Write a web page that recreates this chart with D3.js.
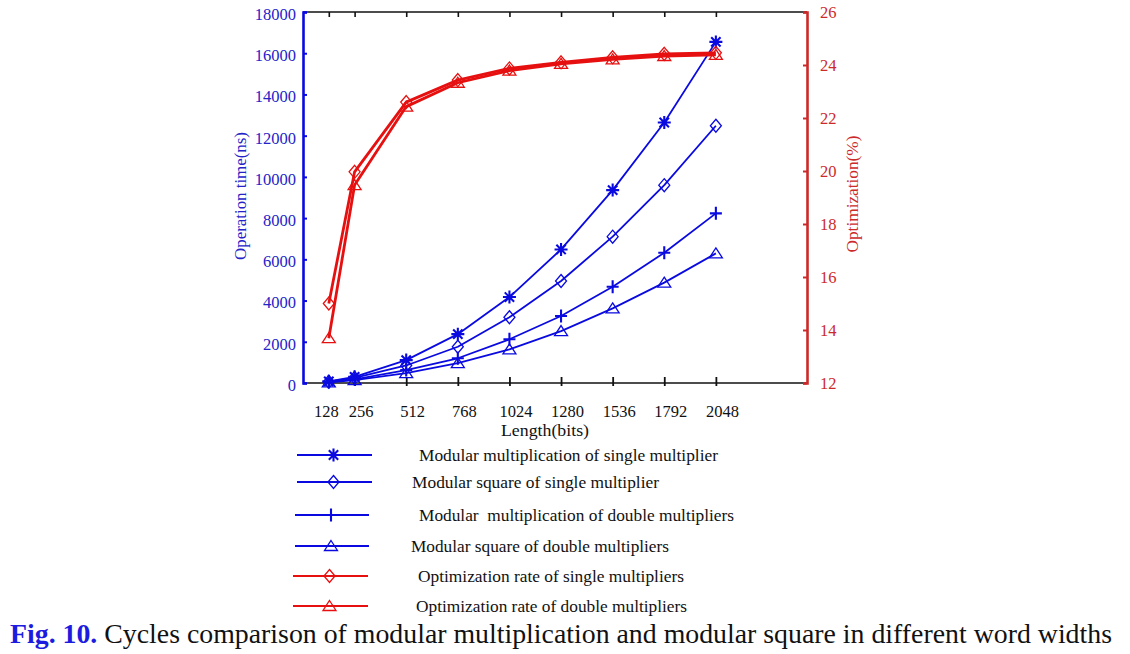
<!DOCTYPE html>
<html>
<head>
<meta charset="utf-8">
<script src="https://cdn.jsdelivr.net/npm/d3@7"></script>
<style>
  html, body { margin: 0; padding: 0; background: #fff; }
  svg { display: block; }
  svg text { font-family: "Liberation Serif", Tinos, "Times New Roman", "Nimbus Roman", "DejaVu Serif", serif !important; }
</style>
</head>
<body>
<svg id="chart" width="1130" height="654"></svg>
<script>
// ---------- data ----------
const lengths = [128, 256, 512, 768, 1024, 1280, 1536, 1792, 2048];
const mulSingle = [80, 300, 1110, 2370, 4170, 6480, 9360, 12640, 16550];
const sqrSingle = [60, 250, 850, 1760, 3190, 4950, 7100, 9600, 12480];
const mulDouble = [45, 180, 630, 1200, 2120, 3250, 4670, 6320, 8230];
const sqrDouble = [35, 140, 480, 960, 1630, 2520, 3620, 4870, 6290];
const optSingle = [15.0, 19.97, 22.6, 23.43, 23.87, 24.1, 24.29, 24.42, 24.46];
const optDouble = [13.69, 19.47, 22.43, 23.33, 23.79, 24.04, 24.21, 24.34, 24.38];
const leftTicks = [0, 2000, 4000, 6000, 8000, 10000, 12000, 14000, 16000, 18000];
const rightTicks = [12, 14, 16, 18, 20, 22, 24, 26];
const legendLabels = [
  "Modular multiplication of single multiplier",
  "Modular square of single multiplier",
  "Modular  multiplication of double multipliers",
  "Modular square of double multipliers",
  "Optimization rate of single multipliers",
  "Optimization rate of double multipliers"
];

const BLUE = "#0a0ae0", BLUE_T = "#2323c8", RED = "#e61010", RED_T = "#cc2a2a";
const SERIF = "'Liberation Serif', Tinos, 'Times New Roman', 'DejaVu Serif', serif";

const series = [
  {values: mulSingle, axis: "left", marker: "star", color: BLUE, lw: 1.8},
  {values: sqrSingle, axis: "left", marker: "diamond", color: BLUE, lw: 1.8},
  {values: mulDouble, axis: "left", marker: "plus", color: BLUE, lw: 1.8},
  {values: sqrDouble, axis: "left", marker: "triangle", color: BLUE, lw: 1.8},
  {values: optSingle, axis: "right", marker: "diamond", color: RED, lw: 2.8},
  {values: optDouble, axis: "right", marker: "triangle", color: RED, lw: 2.8}
];

// ---------- layout ----------
const L = 303, R = 807, T = 12, B = 383;
const svg = d3.select("#chart");
const x = d3.scaleLinear().domain([0, 2500]).range([L, R]);
const yL = d3.scaleLinear().domain([0, 18000]).range([B, T]);
const yR = d3.scaleLinear().domain([12, 26]).range([B, T]);

function markerPath(type) {
  const p = d3.path();
  if (type === "star") {
    const r = 6.5, d = r * 0.72;
    p.moveTo(-r, 0); p.lineTo(r, 0);
    p.moveTo(0, -r); p.lineTo(0, r);
    p.moveTo(-d, -d); p.lineTo(d, d);
    p.moveTo(-d, d); p.lineTo(d, -d);
  } else if (type === "diamond") {
    p.moveTo(0, -6.5); p.lineTo(5.5, 0); p.lineTo(0, 6.5); p.lineTo(-5.5, 0); p.closePath();
  } else if (type === "plus") {
    p.moveTo(-6, 0); p.lineTo(6, 0);
    p.moveTo(0, -6.5); p.lineTo(0, 6.5);
  } else if (type === "triangle") {
    p.moveTo(0, -5.5); p.lineTo(6.5, 4.5); p.lineTo(-6.5, 4.5); p.closePath();
  }
  return p.toString();
}
function markerStroke(type) { return (type === "star" || type === "plus") ? 2.1 : 1.3; }

// ---------- axes frame ----------
const g = svg.append("g");
g.append("line").attr("x1", L).attr("x2", R).attr("y1", T).attr("y2", T)
  .attr("stroke", "#111").attr("stroke-width", 1.6);
g.append("line").attr("x1", L).attr("x2", R).attr("y1", B).attr("y2", B)
  .attr("stroke", "#111").attr("stroke-width", 1.6);

const topAxis = d3.axisTop(x).tickValues(lengths).tickSize(-5).tickFormat("");
const ta = g.append("g").attr("transform", `translate(0,${T})`).call(topAxis);
ta.select(".domain").remove();
ta.selectAll(".tick line").attr("stroke", "#111").attr("stroke-width", 1.6);

const botAxis = d3.axisBottom(x).tickValues(lengths).tickSize(-6).tickPadding(0).tickFormat(d3.format("d"));
const ba = g.append("g").attr("transform", `translate(0,${B})`).call(botAxis)
  .attr("font-family", SERIF).attr("font-size", 16.5);
ba.select(".domain").remove();
ba.selectAll(".tick line").attr("stroke", "#111").attr("stroke-width", 1.8).attr("y2", 3).attr("y1", -6);
ba.selectAll(".tick text").attr("y", 34).attr("dy", 0).attr("fill", "#111")
  .attr("dx", (d, i) => i === 0 ? -3 : 6);

const leftAxis = d3.axisLeft(yL).tickValues(leftTicks).tickSize(-4).tickPadding(7).tickFormat(d3.format("d"));
const la = g.append("g").attr("transform", `translate(${L},0)`).call(leftAxis)
  .attr("font-family", SERIF).attr("font-size", 16.5);
la.select(".domain").attr("stroke", BLUE).attr("stroke-width", 2.6);
la.selectAll(".tick line").attr("stroke", BLUE).attr("stroke-width", 2);
la.selectAll(".tick text").attr("fill", BLUE_T).attr("dy", "0.45em");

const rightAxis = d3.axisRight(yR).tickValues(rightTicks).tickSize(-4).tickPadding(13).tickFormat(d3.format("d"));
const ra = g.append("g").attr("transform", `translate(${R},0)`).call(rightAxis)
  .attr("font-family", SERIF).attr("font-size", 16.5);
ra.select(".domain").attr("stroke", RED_T).attr("stroke-width", 2.6);
ra.selectAll(".tick line").attr("stroke", RED_T).attr("stroke-width", 2);
ra.selectAll(".tick text").attr("fill", RED_T).attr("dy", "0.35em");

// axis titles
svg.append("text").attr("transform", `translate(246,196) rotate(-90)`)
  .attr("text-anchor", "middle").attr("fill", BLUE_T).style("font-size", "16.5px")
  .attr("textLength", 128).attr("lengthAdjust", "spacingAndGlyphs")
  .text("Operation time(ns)");
svg.append("text").attr("transform", `translate(858,194) rotate(-90)`)
  .attr("text-anchor", "middle").attr("fill", RED_T).style("font-size", "16.5px")
  .attr("textLength", 117).attr("lengthAdjust", "spacingAndGlyphs")
  .text("Optimization(%)");
svg.append("text").attr("x", 545).attr("y", 436)
  .attr("text-anchor", "middle").attr("fill", "#111").style("font-size", "16.5px")
  .attr("textLength", 88).attr("lengthAdjust", "spacingAndGlyphs")
  .text("Length(bits)");

// ---------- series ----------
const plot = svg.append("g");
series.forEach(s => {
  const ys = s.axis === "left" ? yL : yR;
  const pts = lengths.map((len, i) => [x(len), ys(s.values[i])]);
  plot.append("path").attr("d", d3.line()(pts))
    .attr("fill", "none").attr("stroke", s.color).attr("stroke-width", s.lw)
    .attr("stroke-linejoin", "round");
  plot.selectAll(null).data(pts).enter().append("path")
    .attr("d", markerPath(s.marker))
    .attr("transform", d => `translate(${d[0]},${d[1]})`)
    .attr("fill", "none").attr("stroke", s.color).attr("stroke-width", markerStroke(s.marker));
});

// ---------- legend ----------
const legRows = [
  {y: 455, x1: 297, x2: 372, tx: 419, tw: 299},
  {y: 482, x1: 297, x2: 372, tx: 412, tw: 247},
  {y: 515, x1: 295, x2: 369, tx: 419, tw: 315},
  {y: 546, x1: 295, x2: 369, tx: 411, tw: 258},
  {y: 576, x1: 293, x2: 368, tx: 418, tw: 266},
  {y: 606, x1: 293, x2: 368, tx: 416, tw: 271}
];
const leg = svg.append("g");
legRows.forEach((r, i) => {
  const s = series[i];
  leg.append("line").attr("x1", r.x1).attr("x2", r.x2).attr("y1", r.y).attr("y2", r.y)
    .attr("stroke", s.color).attr("stroke-width", 2);
  leg.append("path").attr("d", markerPath(s.marker))
    .attr("transform", `translate(${(r.x1 + r.x2) / 2 - 1},${r.y})`)
    .attr("fill", "none").attr("stroke", s.color).attr("stroke-width", markerStroke(s.marker));
  leg.append("text").attr("x", r.tx).attr("y", r.y + 6)
    .attr("fill", "#111").style("font-size", "16.5px")
    .attr("textLength", r.tw).attr("lengthAdjust", "spacingAndGlyphs")
    .style("white-space", "pre")
    .text(legendLabels[i]);
});

// ---------- caption ----------
const cap = svg.append("text").attr("x", 10).attr("y", 643)
  .style("font-size", "27px").attr("textLength", 1102).attr("lengthAdjust", "spacingAndGlyphs");
cap.append("tspan").attr("fill", "#1c1ce0").attr("font-weight", "bold").text("Fig. 10.");
cap.append("tspan").attr("fill", "#111").text(" Cycles comparison of modular multiplication and modular square in different word widths");
</script>
</body>
</html>
